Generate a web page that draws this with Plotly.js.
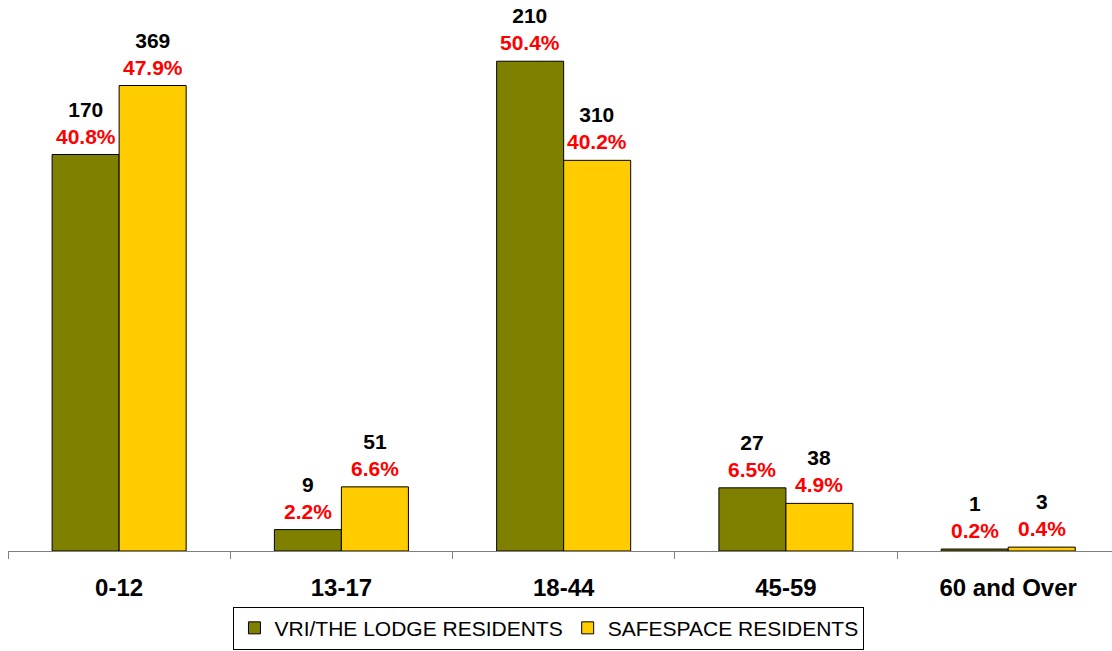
<!DOCTYPE html>
<html>
<head>
<meta charset="utf-8">
<script src="https://cdn.plot.ly/plotly-3.0.1.min.js"></script>
<style>html,body{margin:0;padding:0;background:#fff;}#chart{width:1112px;height:651px;}</style>
</head>
<body>
<div id="chart"></div>
<script>
const categories = ["0-12", "13-17", "18-44", "45-59", "60 and Over"];
const seriesNames = ["VRI/THE LODGE RESIDENTS", "SAFESPACE RESIDENTS"];
const vriCounts = [170, 9, 210, 27, 1];
const vriPct = [40.8, 2.2, 50.4, 6.5, 0.2];
const safeCounts = [369, 51, 310, 38, 3];
const safePct = [47.9, 6.6, 40.2, 4.9, 0.4];
const colors = ["#808000", "#FFCC00"];

const FONT = "Liberation Sans, Arial, sans-serif";

const traces = [
  {type: "bar", name: seriesNames[0], x: categories, y: vriPct,
   marker: {color: colors[0], line: {color: "#000", width: 1}}, hoverinfo: "skip"},
  {type: "bar", name: seriesNames[1], x: categories, y: safePct,
   marker: {color: colors[1], line: {color: "#000", width: 1}}, hoverinfo: "skip"}
];

const annotations = [];
const halfBar = 33.5;
[[vriCounts, vriPct, -halfBar], [safeCounts, safePct, halfBar]].forEach(([cnt, pct, shift]) => {
  categories.forEach((c, i) => {
    annotations.push({
      x: c, y: pct[i], xref: "x", yref: "y", xshift: shift, yshift: 5,
      yanchor: "bottom", showarrow: false,
      text: "<b>" + cnt[i] + "</b><br><b><span style='color:#FF0000'>" + pct[i].toFixed(1) + "%</span></b>",
      font: {family: FONT, size: 21, color: "#000"}
    });
  });
});

const layout = {
  width: 1112, height: 651,
  margin: {l: 8, r: 0, t: 0, b: 100, autoexpand: false},
  paper_bgcolor: "#fff", plot_bgcolor: "#fff",
  font: {family: FONT, color: "#000"},
  barmode: "group", bargap: 0.397, bargroupgap: 0,
  showlegend: true,
  legend: {
    orientation: "h", x: 0.49, xanchor: "center",
    yref: "container", y: 0.002, yanchor: "bottom",
    bordercolor: "#000", borderwidth: 1, bgcolor: "#fff",
    font: {family: FONT, size: 21, color: "#000"},
    traceorder: "normal", itemwidth: 30
  },
  xaxis: {
    type: "category", range: [-0.5, 4.467], automargin: false,
    showline: true, linecolor: "#808080", linewidth: 1,
    ticks: "outside", tickson: "boundaries", ticklen: 7, tickcolor: "#808080",
    ticklabelstandoff: 15,
    tickfont: {family: FONT, size: 24, color: "#000", weight: "bold"},
    showgrid: false, zeroline: false, fixedrange: true
  },
  yaxis: {
    range: [0, 56.7], visible: false, automargin: false,
    showgrid: false, zeroline: false, fixedrange: true
  },
  annotations: annotations
};

Plotly.newPlot("chart", traces, layout, {displayModeBar: false, staticPlot: true});
</script>
</body>
</html>
